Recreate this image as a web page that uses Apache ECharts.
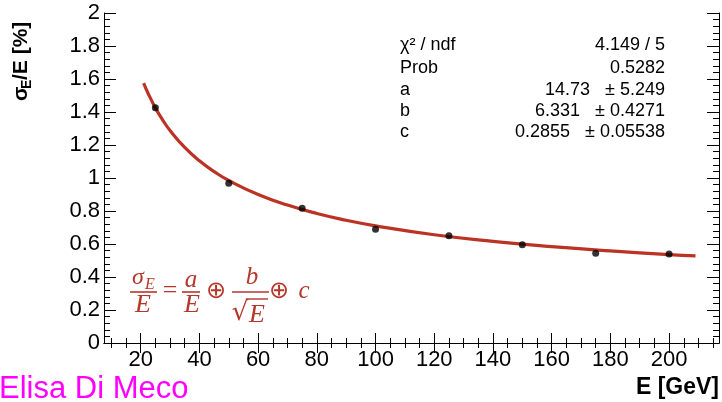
<!DOCTYPE html>
<html><head><meta charset="utf-8">
<script src="https://cdn.jsdelivr.net/npm/echarts@6/dist/echarts.min.js"></script>
<style>html,body{margin:0;padding:0;background:#fff}#c{width:722px;height:402px}</style>
</head><body><div id="c"></div>
<script>
// ---- data ----
const energies = [25, 50, 75, 100, 125, 150, 175, 200];
const resolution = [1.426, 0.968, 0.816, 0.689, 0.650, 0.596, 0.544, 0.539];
const fitE = [21, 22.5, 25, 27.5, 30, 35, 40, 45, 50, 60, 70, 80, 90, 100, 120, 140, 160, 180, 200, 209];
const fitRes = [1.575, 1.514, 1.425, 1.351, 1.288, 1.185, 1.104, 1.039, 0.985, 0.900, 0.836, 0.785, 0.744, 0.710, 0.656, 0.616, 0.584, 0.558, 0.536, 0.528];
const xMajorTicks = [20, 40, 60, 80, 100, 120, 140, 160, 180, 200];
const xMinorTicks = [10, 15, 25, 30, 35, 45, 50, 55, 65, 70, 75, 85, 90, 95, 105, 110, 115, 125, 130, 135, 145, 150, 155, 165, 170, 175, 185, 190, 195, 205, 210, 215];
const statLabels = ['χ² / ndf', 'Prob', 'a', 'b', 'c'];
const statValues = ['4.149 / 5', '0.5282', '14.73', '6.331', '0.2855'];
const statErrors = ['', '', '± 5.249', '± 0.4271', '± 0.05538'];
const xTitle = 'E [GeV]';
const author = 'Elisa Di Meco';

// ---- layout ----
const X_MIN = 7.5, X_MAX = 217, Y_MIN = 0, Y_MAX = 2;
const gridBox = {left: 104, right: 3, top: 13, bottom: 59};
const RED = '#b5372b';
const FIT_RED = '#bb3324';
const labelFont = 'Liberation Sans, Arial, Helvetica, sans-serif';
const serif = 'Liberation Serif, Times New Roman, serif';
const TICK_FS = 22;

const chart = echarts.init(document.getElementById('c'), null, {renderer: 'canvas'});

const grids = [0, 1, 2, 3].map(() => Object.assign({}, gridBox));
const axLine = {show: true, lineStyle: {color: '#000', width: 1}};

const xAxes = [
  {gridIndex: 0, type: 'value', position: 'bottom', min: X_MIN, max: X_MAX,
   axisLine: axLine, splitLine: {show: false},
   axisTick: {show: true, inside: true, length: 10, customValues: xMajorTicks, lineStyle: {color: '#000'}},
   axisLabel: {show: true, customValues: xMajorTicks, fontSize: TICK_FS, color: '#000', margin: 6, fontFamily: labelFont}},
  {gridIndex: 1, type: 'value', position: 'top', min: X_MIN, max: X_MAX,
   axisLine: axLine, splitLine: {show: false},
   axisTick: {show: true, inside: true, length: 10, customValues: xMajorTicks, lineStyle: {color: '#000'}},
   axisLabel: {show: false}},
  {gridIndex: 2, type: 'value', position: 'bottom', min: X_MIN, max: X_MAX,
   axisLine: {show: false}, splitLine: {show: false},
   axisTick: {show: true, inside: true, length: 5, customValues: xMinorTicks, lineStyle: {color: '#000'}},
   axisLabel: {show: false}},
  {gridIndex: 3, type: 'value', position: 'top', min: X_MIN, max: X_MAX,
   axisLine: {show: false}, splitLine: {show: false},
   axisTick: {show: true, inside: true, length: 5, customValues: xMinorTicks, lineStyle: {color: '#000'}},
   axisLabel: {show: false}}
];

const yAxes = [
  {gridIndex: 0, type: 'value', position: 'left', min: Y_MIN, max: Y_MAX, interval: 0.2,
   axisLine: axLine, splitLine: {show: false},
   axisTick: {show: true, inside: true, length: 12, lineStyle: {color: '#000'}},
   minorTick: {show: true, splitNumber: 5, length: 6, lineStyle: {color: '#000'}},
   axisLabel: {show: true, fontSize: TICK_FS, color: '#000', margin: 4, fontFamily: labelFont,
     formatter: v => String(Math.round(v * 10) / 10)}},
  {gridIndex: 1, type: 'value', position: 'right', min: Y_MIN, max: Y_MAX, interval: 0.2,
   axisLine: axLine, splitLine: {show: false},
   axisTick: {show: true, inside: true, length: 12, lineStyle: {color: '#000'}},
   minorTick: {show: true, splitNumber: 5, length: 6, lineStyle: {color: '#000'}},
   axisLabel: {show: false}},
  {gridIndex: 2, type: 'value', min: Y_MIN, max: Y_MAX, show: false},
  {gridIndex: 3, type: 'value', min: Y_MIN, max: Y_MAX, show: false}
];

// ---- graphics (texts) ----
const g = [];
const txt = (text, x, y, font, align, fill, vAlign) => ({
  type: 'text', x, y, silent: true,
  style: {text, font, fill: fill || '#000', textAlign: align || 'left', textVerticalAlign: vAlign || 'middle'}
});
const statY = [45, 68, 90, 111, 132];
const statFont = '18px ' + labelFont;
statLabels.forEach((s, i) => {
  g.push(txt(s, 400, statY[i], statFont, 'left'));
  const right = statErrors[i] ? statValues[i] + '   ' + statErrors[i] : statValues[i];
  g.push(txt(right, 665, statY[i], statFont, 'right'));
});

// y axis title (rotated)
g.push({
  type: 'group', x: 21, y: 101, rotation: Math.PI / 2, silent: true,
  children: [
    txt('σ', 0, 0, 'bold 21px ' + labelFont, 'left'),
    txt('E', 12, 6, 'bold 14px ' + labelFont, 'left'),
    txt('/E [%]', 21, 0, 'bold 21px ' + labelFont, 'left')
  ]
});
// x axis title
g.push(txt(xTitle, 719, 388, 'bold 23px ' + labelFont, 'right'));
// author
g.push(txt(author, -1, 389, '31px ' + labelFont, 'left', '#ff00ff'));

// formula
const it = sz => 'italic ' + sz + 'px ' + serif;
const fline = (x1, x2, y) => ({type: 'line', silent: true, shape: {x1, y1: y, x2, y2: y}, style: {stroke: RED, lineWidth: 1.6}});
const sym = sz => sz + 'px DejaVu Sans, sans-serif';
g.push(txt('σ', 138, 278, it(24), 'center', RED));
g.push(txt('E', 150, 285, it(16), 'center', RED));
g.push(fline(130, 157, 292));
g.push(txt('E', 143, 305, it(26), 'center', RED));
g.push(txt('=', 170, 291, '26px ' + serif, 'center', RED));
g.push(txt('a', 191, 280, it(25), 'center', RED));
g.push(fline(182, 200, 292));
g.push(txt('E', 192, 305, it(26), 'center', RED));
g.push(txt('⊕', 216, 292, sym(24), 'center', RED));
g.push(txt('b', 252, 277, it(25), 'center', RED));
g.push(fline(232, 269, 292));
g.push(txt('√', 240, 313, sym(26), 'center', RED));
g.push({type: 'line', silent: true, shape: {x1: 246, y1: 299, x2: 268, y2: 299}, style: {stroke: RED, lineWidth: 1.4}});
g.push(txt('E', 257, 315, it(26), 'center', RED));
g.push(txt('⊕', 279, 292, sym(24), 'center', RED));
g.push(txt('c', 304, 291, it(25), 'center', RED));

chart.setOption({
  animation: false,
  backgroundColor: '#fff',
  grid: grids,
  xAxis: xAxes,
  yAxis: yAxes,
  series: [
    {type: 'line', xAxisIndex: 0, yAxisIndex: 0, smooth: true, showSymbol: false, symbol: 'none',
     data: fitE.map((e, i) => [e, fitRes[i]]),
     lineStyle: {color: FIT_RED, width: 3.2}, z: 2},
    {type: 'scatter', xAxisIndex: 0, yAxisIndex: 0, symbol: 'circle', symbolSize: 7,
     data: energies.map((e, i) => [e, resolution[i]]),
     itemStyle: {color: '#000'}, z: 3}
  ],
  graphic: g
});
</script>
</body></html>
